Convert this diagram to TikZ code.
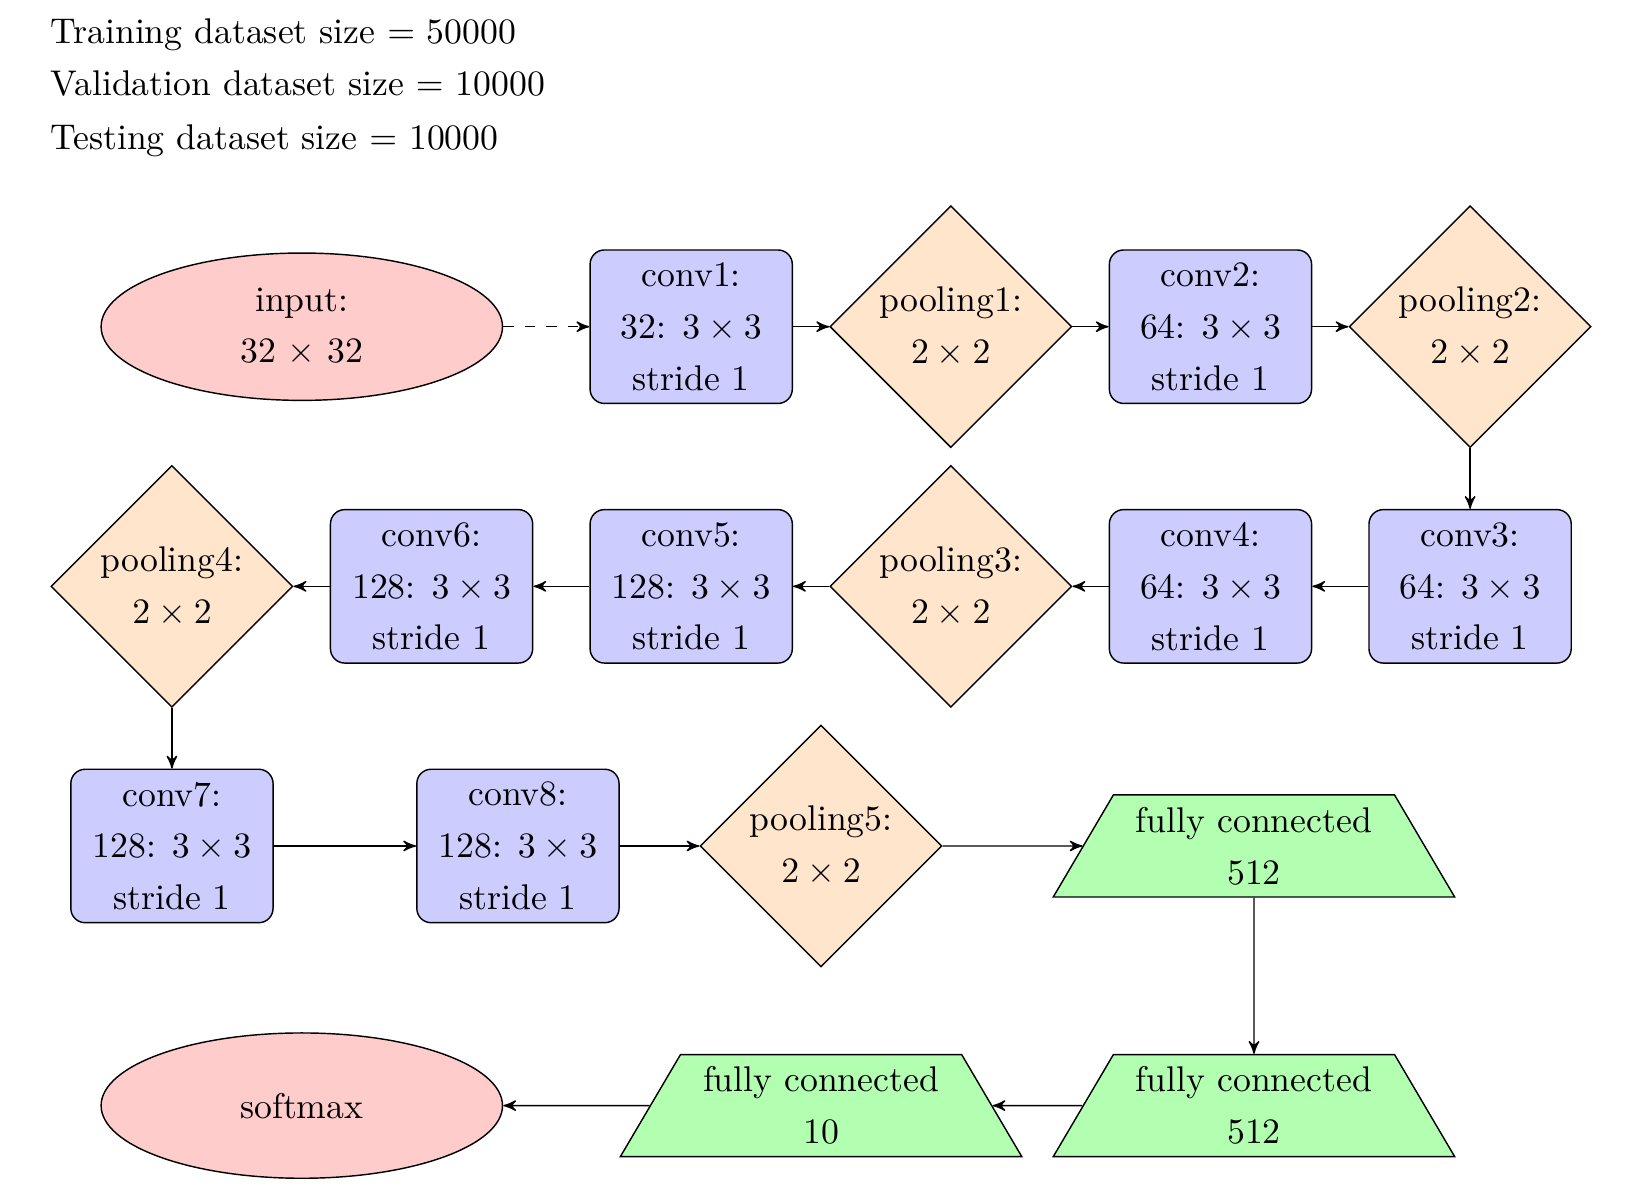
\documentclass[tikz,border=0pt]{standalone}
\usetikzlibrary{shapes.geometric}
\usetikzlibrary{positioning}
\usetikzlibrary{arrows}

\begin{document}
\begin{tikzpicture}[font={\fontsize{10}{14.5}\selectfont},
conv/.style={rectangle,rounded corners,draw,fill=blue!20,align=center,minimum width=1.99cm,minimum height=1.51cm,inner sep=1pt},
pool/.style={diamond,draw,fill=orange!20,align=center,minimum width=2.38cm,minimum height=2.38cm,inner sep=0pt},
io/.style={ellipse,draw,fill=red!20,align=center,minimum width=3.95cm,minimum height=1.43cm},
fc/.style={trapezium,trapezium angle=59.5,trapezium stretches body,draw,fill=green!30,align=center,minimum width=3.95cm,minimum height=0.95cm,inner xsep=1pt,inner ysep=3.4pt},
line/.style={draw,->,>=stealth'}]
\useasboundingbox (0,0) rectangle (16.08,-11.77);

\node[anchor=base west,inner sep=0pt] (trainsize) at (0.49,-0.431) {Training dataset size $=$ 50000};
\node[anchor=base west,inner sep=0pt] (validsize) at (0.49,-0.943) {Validation dataset size $=$ 10000};
\node[anchor=base west,inner sep=0pt] (testsize) at (0.49,-1.467) {Testing dataset size $=$ 10000};

\node[io,minimum height=1.45cm] (input) at (2.97,-3.215) {input:\\32 $\times$ 32};
\node[conv] (conv1) at (6.802,-3.215) {conv1:\\32: $3\times3$\\stride 1};
\node[pool] (pool1) at (9.357,-3.215) {pooling1:\\$2\times2$};
\node[conv] (conv2) at (11.912,-3.215) {conv2:\\64: $3\times3$\\stride 1};
\node[pool] (pool2) at (14.467,-3.215) {pooling2:\\$2\times2$};

\node[conv] (conv3) at (14.467,-5.77) {conv3:\\64: $3\times3$\\stride 1};
\node[conv] (conv4) at (11.912,-5.77) {conv4:\\64: $3\times3$\\stride 1};
\node[pool] (pool3) at (9.357,-5.77) {pooling3:\\$2\times2$};
\node[conv] (conv5) at (6.802,-5.77) {conv5:\\128: $3\times3$\\stride 1};
\node[conv] (conv6) at (4.247,-5.77) {conv6:\\128: $3\times3$\\stride 1};
\node[pool] (pool4) at (1.692,-5.77) {pooling4:\\$2\times2$};

\node[conv] (conv7) at (1.692,-8.325) {conv7:\\128: $3\times3$\\stride 1};
\node[conv] (conv8) at (5.097,-8.325) {conv8:\\128: $3\times3$\\stride 1};
\node[pool] (pool5) at (8.08,-8.325) {pooling5:\\$2\times2$};
\node[fc] (fc1) at (12.34,-8.325) {fully connected\\512};

\node[fc] (fc2) at (12.34,-10.88) {fully connected\\512};
\node[fc] (fc3) at (8.08,-10.88) {fully connected\\10};
\node[io] (softmax) at (2.97,-10.88) {softmax};

\draw[line,dashed] (input) -- (conv1);
\draw[line] (conv1) -- (pool1);
\draw[line] (pool1) -- (conv2);
\draw[line] (conv2) -- (pool2);
\draw[line] (pool2) -- (conv3);
\draw[line] (conv3) -- (conv4);
\draw[line] (conv4) -- (pool3);
\draw[line] (pool3) -- (conv5);
\draw[line] (conv5) -- (conv6);
\draw[line] (conv6) -- (pool4);
\draw[line] (pool4) -- (conv7);
\draw[line] (conv7) -- (conv8);
\draw[line] (conv8) -- (pool5);
\draw[line] (pool5) -- (fc1);
\draw[line] (fc1) -- (fc2);
\draw[line] (fc2) -- (fc3);
\draw[line] (fc3) -- (softmax);

\end{tikzpicture}
\end{document}
